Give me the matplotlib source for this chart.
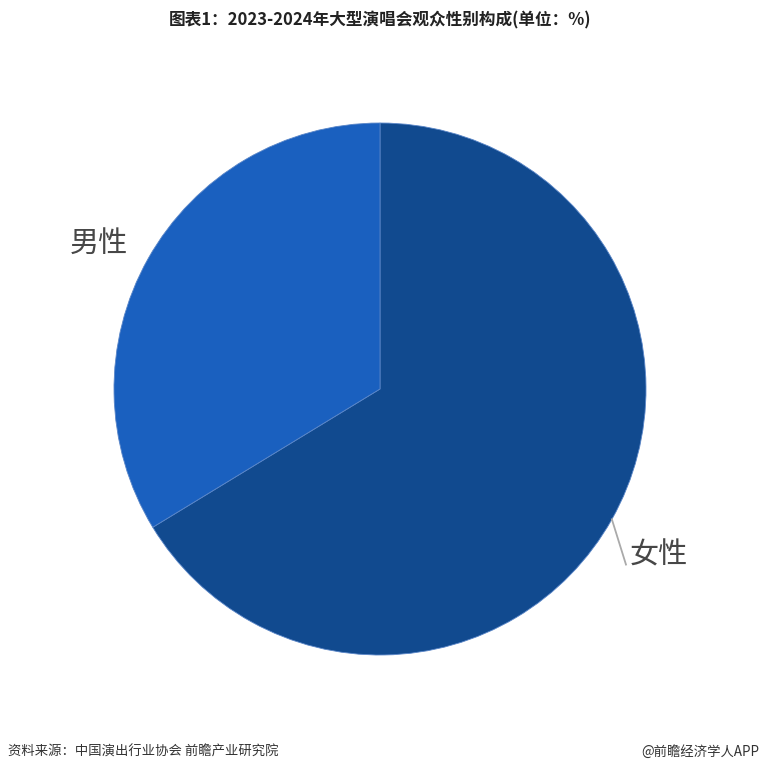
import numpy as np
import matplotlib.pyplot as plt

plt.rcParams['font.family'] = ['Noto Sans CJK SC', 'DejaVu Sans']

labels = ['女性', '男性']
shares = [66.3, 33.7]
colors = ['#114a8f', '#1a60bf']

fig = plt.figure(figsize=(7.6, 7.74), dpi=100)
ax = fig.add_axes([114 / 760, 1 - 655 / 774, 532 / 760, 532 / 774])

wedges, _ = ax.pie(shares, colors=colors, startangle=90, counterclock=False,
                   radius=1.0, wedgeprops=dict(edgecolor='#5a86c8', linewidth=0.6))
ax.set_xlim(-1, 1)
ax.set_ylim(-1, 1)
ax.set_aspect('equal')
ax.axis('off')

# labels beside each slice
for w, lab in zip(wedges, labels):
    mid = np.deg2rad((w.theta1 + w.theta2) / 2)
    x0, y0 = np.cos(mid), np.sin(mid)
    if x0 > 0:
        ax.plot([x0, x0 + 0.053], [y0, y0 - 0.17], color='#aaaaaa', lw=1.3,
                clip_on=False)
        ax.text(0.94, y0 - 0.135, lab, ha='left', va='center', fontsize=21,
                fontweight='light', color='#474747', clip_on=False)
    else:
        ax.text(-0.947, y0 + 0.055, lab, ha='right', va='center', fontsize=21,
                fontweight='light', color='#474747', clip_on=False)

fig.text(0.5, 1 - 20 / 774, '图表1：2023-2024年大型演唱会观众性别构成(单位：%)',
         ha='center', va='center', fontsize=12, fontweight='bold', color='#222222')
fig.text(8 / 760, 1 - 752 / 774, '资料来源：中国演出行业协会 前瞻产业研究院',
         ha='left', va='center', fontsize=9.6, color='#333333')
fig.text(759 / 760, 1 - 752 / 774, '@前瞻经济学人APP',
         ha='right', va='center', fontsize=9.6, color='#333333')

fig.savefig('out.png', dpi=100)
